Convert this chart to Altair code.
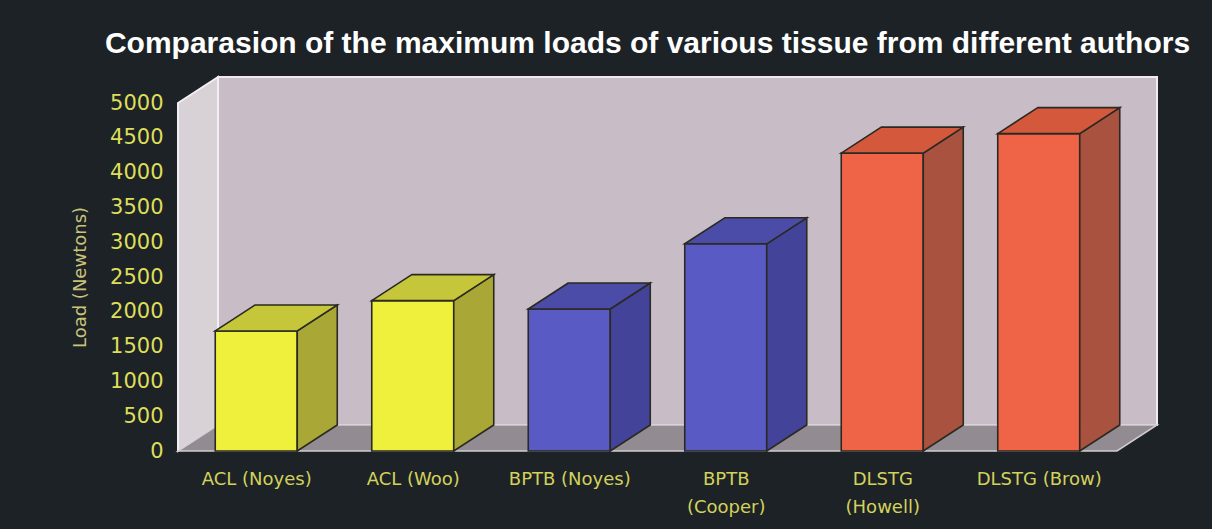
import json
import altair as alt
import pandas as pd

# ---- data ----
categories = ["ACL (Noyes)", "ACL (Woo)", "BPTB (Noyes)", "BPTB (Cooper)", "DLSTG (Howell)", "DLSTG (Brow)"]
label_lines = [["ACL (Noyes)"], ["ACL (Woo)"], ["BPTB (Noyes)"], ["BPTB", "(Cooper)"],
               ["DLSTG", "(Howell)"], ["DLSTG (Brow)"]]
loads = [1725, 2160, 2040, 2977, 4280, 4560]
tissue = ["ACL", "ACL", "BPTB", "BPTB", "DLSTG", "DLSTG"]
y_ticks = [0, 500, 1000, 1500, 2000, 2500, 3000, 3500, 4000, 4500, 5000]

# ---- styles ----
front_colors = {"ACL": "#eef03c", "BPTB": "#5a5ac4", "DLSTG": "#ef6347"}
side_colors = {"ACL": "#a9a736", "BPTB": "#43439a", "DLSTG": "#a8523f"}
top_colors = {"ACL": "#c6c63a", "BPTB": "#4b4ba8", "DLSTG": "#d4583c"}
BG = "#1d2226"

W, H = 939, 348
X_MIN, X_MAX = -0.5, len(categories) - 0.5
Y_MAX = 5000
HALF = 0.262
DX = 40 / (W / (X_MAX - X_MIN))
DY = 26 / H * Y_MAX

front_rows, side_rows, top_rows = [], [], []
for i, (v, t) in enumerate(zip(loads, tissue)):
    front_rows.append({"x": i - HALF, "x2": i + HALF, "y": 0, "y2": v, "fill": front_colors[t]})
    side_rows.append({"bar": i, "x": i + HALF, "y": v, "y2": 0, "fill": side_colors[t]})
    side_rows.append({"bar": i, "x": i + HALF + DX, "y": v + DY, "y2": DY, "fill": side_colors[t]})
    top_rows.append({"bar": i, "y": v, "x": i - HALF, "x2": i + HALF, "fill": top_colors[t]})
    top_rows.append({"bar": i, "y": v + DY, "x": i - HALF + DX, "x2": i + HALF + DX, "fill": top_colors[t]})

back_df = pd.DataFrame([{"x": X_MIN + DX, "x2": X_MAX + DX, "y": DY, "y2": Y_MAX + DY}])
left_df = pd.DataFrame([{"x": X_MIN, "y": Y_MAX, "y2": 0}, {"x": X_MIN + DX, "y": Y_MAX + DY, "y2": DY}])
floor_df = pd.DataFrame([{"y": 0, "x": X_MIN, "x2": X_MAX}, {"y": DY, "x": X_MIN + DX, "x2": X_MAX + DX}])

x_axis = alt.Axis(
    values=list(range(len(categories))),
    labelExpr=json.dumps(label_lines) + "[datum.value]",
    domain=False, ticks=False, grid=False,
    labelFont="DejaVu Sans", labelFontSize=18, labelColor="#d2d25c",
    labelPadding=19, labelLineHeight=28, labelOverlap=False, labelBound=False, labelFlush=False,
    labelBaseline="top", title=None,
)
y_axis = alt.Axis(
    values=y_ticks, format="d", domain=False, ticks=False, grid=False,
    labelFont="DejaVu Sans", labelFontSize=21, labelColor="#dede5a", labelPadding=15,
    title="Load (Newtons)", titleFont="DejaVu Sans", titleFontSize=18, titleFontWeight="normal",
    titleColor="#c9c27a", titlePadding=20,
)
xs = alt.Scale(domain=[X_MIN, X_MAX], nice=False, zero=False)
ys = alt.Scale(domain=[0, Y_MAX], nice=False, zero=False)

X = alt.X("x:Q", scale=xs, axis=x_axis)
Y = alt.Y("y:Q", scale=ys, axis=y_axis)

back = alt.Chart(back_df).mark_rect(fill="#c8bdc7", stroke="#eeeaee", strokeWidth=2).encode(
    x=X, x2="x2:Q", y=Y, y2="y2:Q")
left = alt.Chart(left_df).mark_area(orient="vertical", fill="#d8d2d7", stroke="#f2eff2",
                                    strokeWidth=2).encode(x=X, y=Y, y2="y2:Q")
floor = alt.Chart(floor_df).mark_area(orient="horizontal", fill="#928c92", stroke="#d0ccd0",
                                      strokeWidth=1.5).encode(y=Y, x=X, x2="x2:Q")

front = alt.Chart(pd.DataFrame(front_rows)).mark_rect(stroke="#2a2a22", strokeWidth=1.6).encode(
    x=X, x2="x2:Q", y=Y, y2="y2:Q", fill=alt.Fill("fill:N", scale=None))
side = alt.Chart(pd.DataFrame(side_rows)).mark_area(orient="vertical", stroke="#2a2a22",
                                                     strokeWidth=1.6).encode(
    x=X, y=Y, y2="y2:Q", detail="bar:N", fill=alt.Fill("fill:N", scale=None))
top = alt.Chart(pd.DataFrame(top_rows)).mark_area(orient="horizontal", stroke="#2a2a22",
                                                   strokeWidth=1.6).encode(
    y=Y, x=X, x2="x2:Q", detail="bar:N", fill=alt.Fill("fill:N", scale=None))

chart = alt.layer(back, left, floor, front, side, top).properties(
    width=W, height=H,
    title=alt.Title("Comparasion of the maximum loads of various tissue from different authors",
                    font="Liberation Sans", fontSize=30, fontWeight="bold", color="#ffffff",
                    anchor="middle", baseline="alphabetic", offset=20, dy=30),
    autosize=alt.AutoSizeParams(type="none"),
    padding={"left": 178, "top": 103, "right": 1212 - 178 - W, "bottom": 529 - 103 - H},
    background=BG,
).configure_view(stroke=None)

chart.save("out.html", embed_options={"renderer": "svg", "actions": False})
